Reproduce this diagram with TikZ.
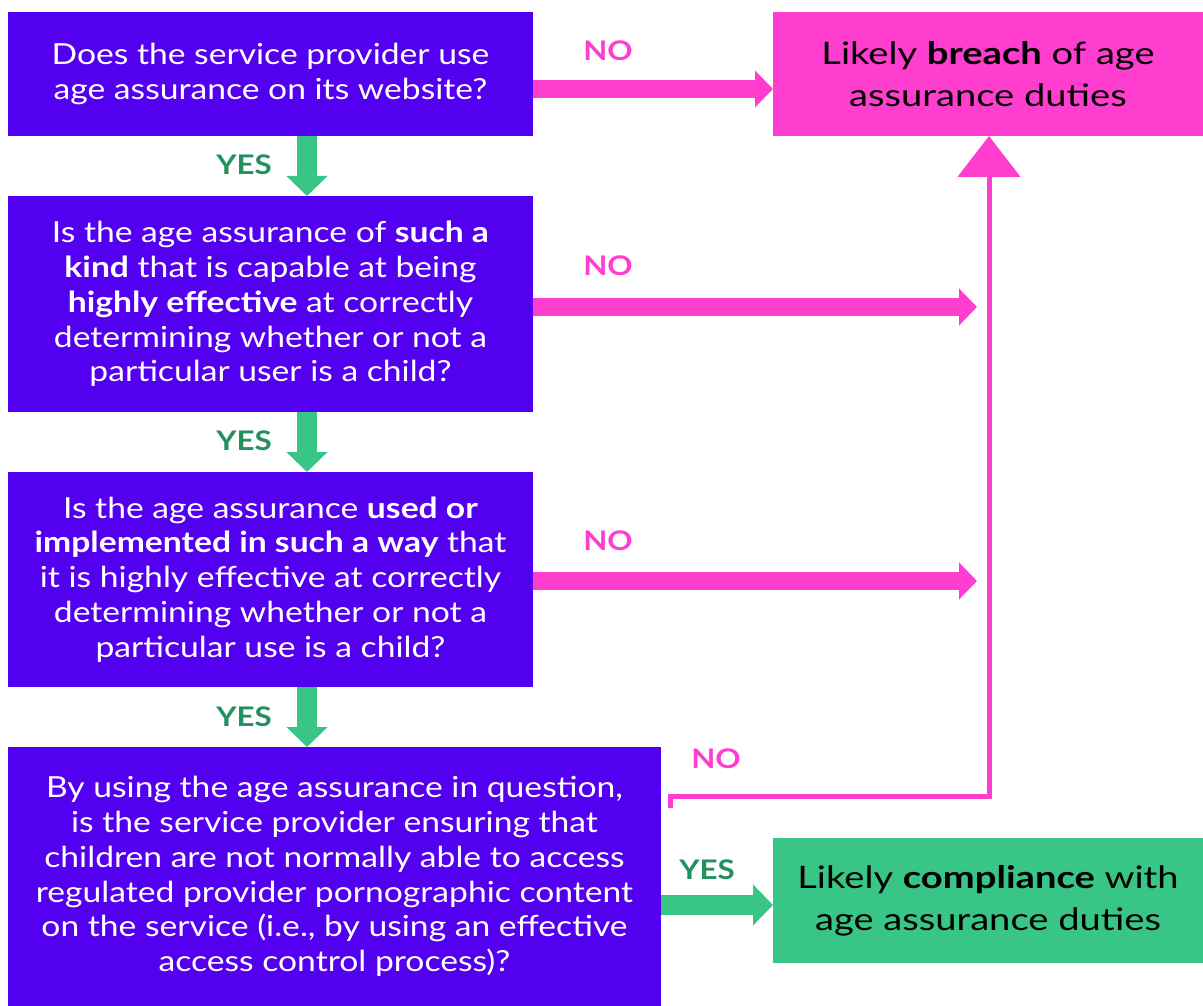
\documentclass[tikz,border=0pt]{standalone}
\usepackage{fontspec}
\setmainfont{Lato}[FakeStretch=1.16]
\newfontfamily\rfont{Lato}[FakeStretch=1.23]
\usetikzlibrary{arrows.meta}
\definecolor{qpurple}{HTML}{5400F0}
\definecolor{npink}{HTML}{FF3ED0}
\definecolor{ygreen}{HTML}{38C585}
\definecolor{ylabel}{HTML}{22915F}
\begin{document}
\begin{tikzpicture}[x=1pt,y=-1pt,
  qbox/.style={fill=qpurple, text=white, inner sep=0pt, outer sep=0pt, align=center,
    font=\fontsize{29}{34.8}\selectfont},
  rbox/.style={inner sep=0pt, outer sep=0pt, align=center, text=black,
    minimum width=430pt, font=\rfont\fontsize{31}{42}\selectfont},
  noarrow/.style={draw=npink, line width=18pt, -{Triangle[length=18pt,width=36pt]}},
  yesarrow/.style={draw=ygreen, line width=20pt, -{Triangle[length=20pt,width=40pt]}},
  nolabel/.style={text=npink, font=\fontsize{27}{30}\selectfont\bfseries},
  yeslabel/.style={text=ylabel, font=\fontsize{27}{30}\selectfont\bfseries}]
\useasboundingbox (0,0) rectangle (1203,1006);
\fill[white] (0,0) rectangle (1203,1006);

\node[qbox, minimum width=525pt, minimum height=124pt] (q1) at (270.5,74)
  {Does the service provider use\\ age assurance on its website?};
\node[qbox, minimum width=525pt, minimum height=216pt] (q2) at (270.5,304)
  {Is the age assurance of \textbf{such a}\\ \textbf{kind} that is capable at being\\
   \textbf{highly effective} at correctly\\ determining whether or not a\\ particular user is a child?};
\node[qbox, minimum width=525pt, minimum height=215pt] (q3) at (270.5,579.5)
  {Is the age assurance \textbf{used or}\\ \textbf{implemented in such a way} that\\
   it is highly effective at correctly\\ determining whether or not a\\ particular use is a child?};
\node[qbox, minimum width=653pt, minimum height=259pt] (q4) at (334.5,876.5)
  {By using the age assurance in question,\\ is the service provider ensuring that\\
   children are not normally able to access\\ regulated provider pornographic content\\
   on the service (i.e., by using an effective\\ access control process)?};
\node[rbox, fill=npink, minimum height=124pt] (breach) at (988,74)
  {Likely \textbf{breach} of age\\ assurance duties};
\node[rbox, fill=ygreen, minimum height=125pt] (comply) at (988,900.5)
  {Likely \textbf{compliance} with\\ age assurance duties};

\coordinate (n2end) at (977,307);
\coordinate (n3end) at (977,581);
\coordinate (nostart) at (670.5,808);
\coordinate (nocorner) at (989,796);

\draw[noarrow] ([yshift=-15pt]q1.east) -- ([yshift=-15pt]breach.west);
\draw[noarrow] (q2.east |- n2end) -- (n2end);
\draw[noarrow] (q3.east |- n3end) -- (n3end);
\draw[draw=npink, line width=5pt, line join=miter, -{Triangle[length=41pt,width=62pt]}]
  (nostart) -- (nostart |- nocorner) -- (nocorner) -- (nocorner |- breach.south);

\draw[yesarrow] ([xshift=36.5pt]q1.south) -- ([xshift=36.5pt]q2.north);
\draw[yesarrow] ([xshift=36.5pt]q2.south) -- ([xshift=36.5pt]q3.north);
\draw[yesarrow] ([xshift=36.5pt]q3.south) -- ([xshift=36.5pt]q3.south |- q4.north);
\draw[yesarrow] (q4.east |- 0,905) -- (comply.west |- 0,905);

\node[nolabel] (no1) at (608,51) {NO};
\node[nolabel] (no2) at (608,266) {NO};
\node[nolabel] (no3) at (608,541) {NO};
\node[nolabel] (no4) at (716,759) {NO};
\node[yeslabel] (yes1) at (244,165) {YES};
\node[yeslabel] (yes2) at (244,441) {YES};
\node[yeslabel] (yes3) at (244,717) {YES};
\node[yeslabel] (yes4) at (707,870) {YES};
\end{tikzpicture}
\end{document}
